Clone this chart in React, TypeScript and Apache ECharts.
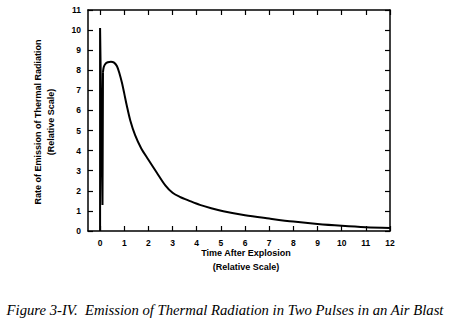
import React, { useEffect, useRef } from "react";
import * as echarts from "echarts";

const spikeTime = [0, 0, 0.1, 0.12];
const spikeRate = [0, 10.1, 1.3, 7.9];
const decayTime = [0.12, 0.15, 0.22, 0.32, 0.45, 0.58, 0.7, 0.8, 0.9, 1.0, 1.1, 1.25, 1.45, 1.7, 2.0, 2.35, 2.7, 3.0, 3.3, 3.7, 4.13, 4.6, 5.1, 6, 7, 8, 9, 10, 11, 12];
const decayRate = [7.9, 8.15, 8.32, 8.4, 8.43, 8.38, 8.2, 7.85, 7.4, 6.85, 6.27, 5.5, 4.77, 4.12, 3.55, 2.9, 2.27, 1.9, 1.7, 1.5, 1.3, 1.13, 0.98, 0.78, 0.62, 0.47, 0.35, 0.26, 0.19, 0.15];
const xTicks = [0, 1, 2, 3, 4, 5, 6, 7, 8, 9, 10, 11, 12];
const yTitle = ["Rate of Emission of Thermal Radiation", "(Relative Scale)"];
const xTitle = ["Time After Explosion", "(Relative Scale)"];
const caption = "Figure 3-IV.  Emission of Thermal Radiation in Two Pulses in an Air Blast";

const FONT = '"Liberation Sans", Arial, sans-serif';

export default function App() {
  const ref = useRef<HTMLDivElement>(null);
  useEffect(() => {
    if (!ref.current) return;
    const chart = echarts.init(ref.current, null, { renderer: "svg" });
    const mkLine = () => ({ show: true, onZero: false, lineStyle: { color: "#000", width: 1.5 } });
    const mkTick = () => ({ show: true, inside: true, length: 5, lineStyle: { color: "#000", width: 1.2 } });
    const labelStyle = { color: "#000", fontFamily: FONT, fontWeight: "bold" as const, fontSize: 8.5 };
    const lineStyle = { color: "#000", width: 2 };
    const blank = () => "";
    chart.setOption({
      animation: false,
      backgroundColor: "#fff",
      grid: { left: 88, top: 10, right: 60, bottom: 100, containLabel: false, outerBoundsMode: "none" },
      xAxis: [
        {
          type: "value", min: -0.5, max: 12,
          axisLine: mkLine(), splitLine: { show: false },
          axisTick: { ...mkTick(), customValues: xTicks },
          axisLabel: { ...labelStyle, margin: 7, customValues: xTicks },
        },
        {
          type: "value", position: "top", min: -0.5, max: 12,
          axisLine: mkLine(), splitLine: { show: false },
          axisTick: { ...mkTick(), customValues: xTicks },
          axisLabel: { ...labelStyle, formatter: blank, customValues: xTicks },
        },
      ],
      yAxis: [
        {
          type: "value", min: 0, max: 11, interval: 1,
          axisLine: mkLine(), splitLine: { show: false },
          axisTick: mkTick(),
          axisLabel: { ...labelStyle, margin: 7 },
        },
        {
          type: "value", position: "right", min: 0, max: 11, interval: 1,
          axisLine: mkLine(), splitLine: { show: false },
          axisTick: mkTick(),
          axisLabel: { ...labelStyle, formatter: blank },
        },
      ],
      series: [
        {
          type: "line",
          data: spikeTime.map((t, i) => [t, spikeRate[i]]),
          showSymbol: false,
          smooth: false,
          lineStyle,
        },
        {
          type: "line",
          data: decayTime.map((t, i) => [t, decayRate[i]]),
          showSymbol: false,
          smooth: 0.3,
          lineStyle,
        },
        {
          type: "line",
          xAxisIndex: 1,
          yAxisIndex: 1,
          data: decayTime.map((t, i) => [t, decayRate[i]]),
          showSymbol: false,
          smooth: 0.3,
          lineStyle: { ...lineStyle, opacity: 0 },
          silent: true,
        },
      ],
      graphic: [
        { type: "text", x: 38, y: 122, rotation: Math.PI / 2, style: { text: yTitle[0], textAlign: "center", textVerticalAlign: "middle", font: `bold 9px ${FONT}`, fill: "#000" } },
        { type: "text", x: 51, y: 122, rotation: Math.PI / 2, style: { text: yTitle[1], textAlign: "center", textVerticalAlign: "middle", font: `bold 9px ${FONT}`, fill: "#000" } },
        { type: "text", x: 246, y: 253, style: { text: xTitle[0], textAlign: "center", textVerticalAlign: "middle", font: `bold 9px ${FONT}`, fill: "#000" } },
        { type: "text", x: 246, y: 267, style: { text: xTitle[1], textAlign: "center", textVerticalAlign: "middle", font: `bold 9px ${FONT}`, fill: "#000" } },
        { type: "text", x: 225, y: 310, style: { text: caption, textAlign: "center", textVerticalAlign: "middle", font: `italic 14.7px "Liberation Serif", "Times New Roman", serif`, fill: "#000" } },
      ],
    });
    return () => chart.dispose();
  }, []);
  return <div ref={ref} style={{ width: 450, height: 331, position: "absolute", left: 0, top: 0 }} />;
}
